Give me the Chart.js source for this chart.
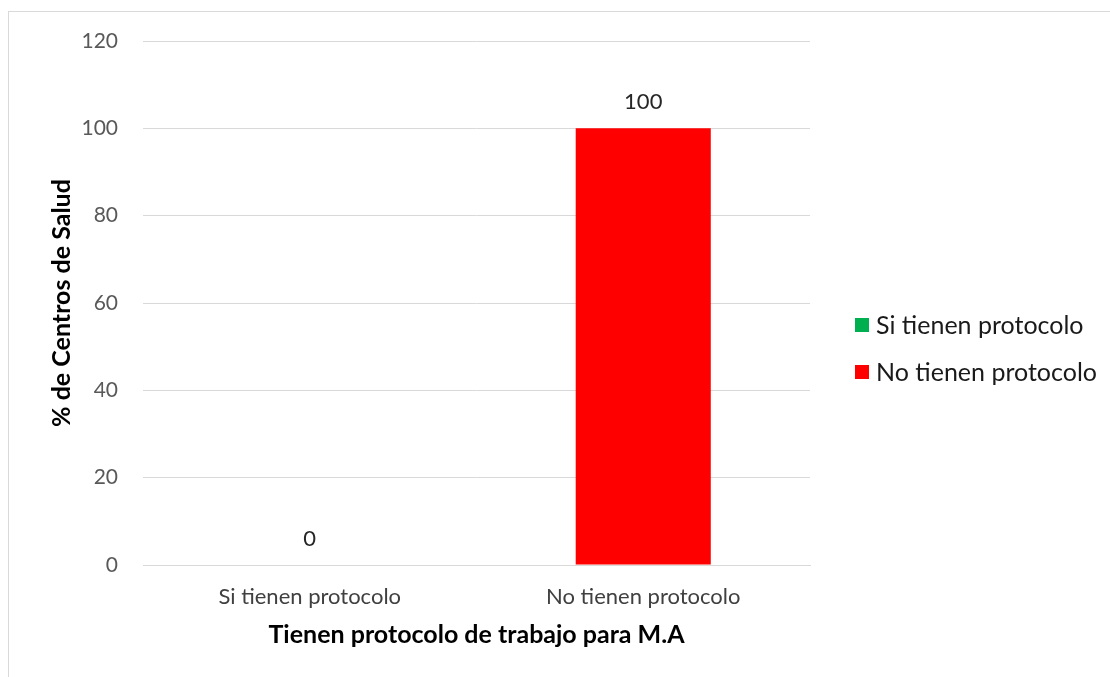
<!DOCTYPE html>
<html>
<head>
<meta charset="utf-8">
<script src="https://cdn.jsdelivr.net/npm/chart.js@4.4.0/dist/chart.umd.min.js"></script>
<style>
  body { margin: 0; background: #fff; overflow: hidden; }
  #marco { position: absolute; left: 8px; top: 11px; width: 1300px; height: 900px; border: 1px solid #d9d9d9; }
  #caja { position: absolute; left: 0; top: 0; width: 1110px; height: 677px; }
</style>
</head>
<body>
<div id="marco"></div>
<div id="caja"><canvas id="grafik"></canvas></div>
<script>
const kategori = ['Si tienen protocolo', 'No tienen protocolo'];
const dataSi = [0, null];
const dataNo = [null, 100];
const tickY = [0, 20, 40, 60, 80, 100, 120];

const fontUtama = 'Lato, Carlito, Calibri, sans-serif';

// label angka di atas batang
const labelBatang = {
  id: 'labelBatang',
  afterDatasetsDraw(chart) {
    const c = chart.ctx;
    c.save();
    c.font = '22px ' + fontUtama;
    c.fillStyle = '#262626';
    c.textAlign = 'center';
    c.textBaseline = 'middle';
    chart.data.datasets.forEach((ds, i) => {
      const meta = chart.getDatasetMeta(i);
      meta.data.forEach((bar, j) => {
        if (ds.data[j] === null) return;
        c.fillText(ds.data[j], bar.x, bar.y - 26);
      });
    });
    c.restore();
  }
};

// legenda di kanan, digambar sendiri
const legendaKanan = {
  id: 'legendaKanan',
  afterDraw(chart) {
    const c = chart.ctx;
    const x = chart.chartArea.right + 45;
    const yTengah = (chart.chartArea.top + chart.chartArea.bottom) / 2;
    c.save();
    c.font = '25px ' + fontUtama;
    c.textBaseline = 'middle';
    chart.data.datasets.forEach((ds, i) => {
      const y = yTengah + 22 + i * 47;
      c.fillStyle = ds.backgroundColor;
      c.fillRect(x, y - 7, 14, 14);
      c.fillStyle = '#1a1a1a';
      c.fillText(ds.label, x + 21, y + 1);
    });
    c.restore();
  }
};

const ctx = document.getElementById('grafik').getContext('2d');

const chart = new Chart(ctx, {
  type: 'bar',
  data: {
    labels: kategori,
    datasets: [
      { label: 'Si tienen protocolo', data: dataSi, backgroundColor: '#00b050' },
      { label: 'No tienen protocolo', data: dataNo, backgroundColor: '#ff0000' }
    ]
  },
  options: {
    responsive: true,
    maintainAspectRatio: false,
    animation: false,
    skipNull: true,
    barPercentage: 0.405,
    categoryPercentage: 1,
    layout: { padding: { left: 10, top: 41, right: 300, bottom: 17 } },
    plugins: {
      tooltip: { enabled: false },
      legend: { display: false }
    },
    scales: {
      x: {
        afterFit: axis => { axis.height = 95; },
        grid: { display: false, drawTicks: false },
        border: { color: '#d9d9d9' },
        ticks: { color: '#404040', padding: 19, maxRotation: 0, font: { family: fontUtama, size: 22 } },
        title: {
          display: true,
          text: 'Tienen protocolo de trabajo para M.A',
          color: '#000',
          font: { family: fontUtama, size: 25, weight: 'bold' },
          padding: { top: 10, bottom: 10 }
        }
      },
      y: {
        min: 0,
        max: 120,
        afterBuildTicks: axis => { axis.ticks = tickY.map(v => ({ value: v })); },
        afterFit: axis => { axis.width = 133; },
        grid: { color: '#d9d9d9', drawTicks: false },
        border: { display: false },
        ticks: { color: '#595959', padding: 25, font: { family: fontUtama, size: 21 } },
        title: {
          display: true,
          text: '% de Centros de Salud',
          color: '#000',
          font: { family: fontUtama, size: 25, weight: 'bold' },
          padding: { top: 37 }
        }
      }
    }
  },
  plugins: [labelBatang, legendaKanan]
});
</script>
</body>
</html>
